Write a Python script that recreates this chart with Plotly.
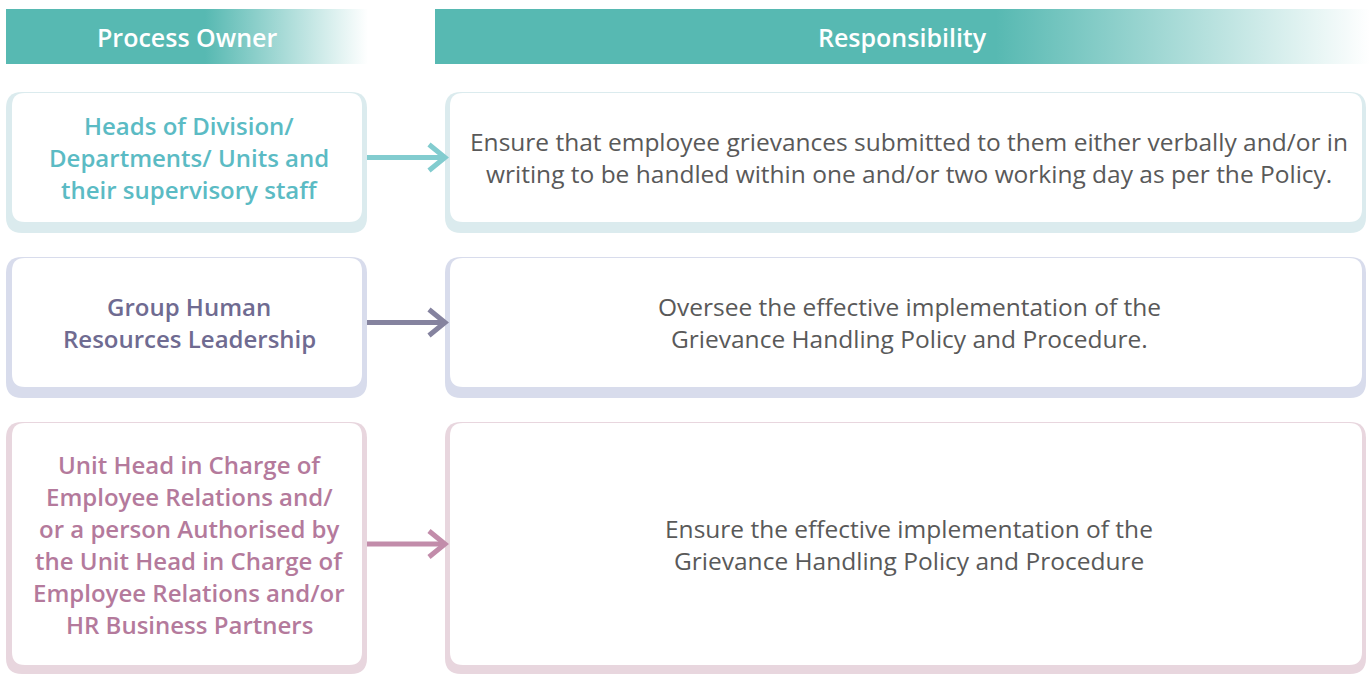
import plotly.graph_objects as go

# ---- content ----
headers = ["Process Owner", "Responsibility"]
owners = [
    ["Heads of Division/", "Departments/ Units and", "their supervisory staff"],
    ["Group Human", "Resources Leadership"],
    ["Unit Head in Charge of", "Employee Relations and/", "or a person Authorised by",
     "the Unit Head in Charge of", "Employee Relations and/or", "HR Business Partners"],
]
responsibilities = [
    ["Ensure that employee grievances submitted to them either verbally and/or in",
     "writing to be handled within one and/or two working day as per the Policy."],
    ["Oversee the effective implementation of the",
     "Grievance Handling Policy and Procedure."],
    ["Ensure the effective implementation of the",
     "Grievance Handling Policy and Procedure"],
]
row_tints = ["#DBEBEE", "#D8DCEC", "#E8D6DE"]
row_text = ["#5BBBC4", "#6F6B91", "#B47A9C"]
row_arrow = ["#82CCCF", "#85839F", "#C28CAA"]
header_color = "#57B9B2"
body_text = "#595959"

# ---- layout geometry (pixels) ----
W, H = 1370, 675
rows_y = [(92, 233, 222), (257, 398, 387), (422, 674, 665)]  # outer top, outer bottom, inner bottom
left_box = (6, 367, 12, 362)      # outer x0, outer x1, inner x0, inner x1
right_box = (445, 1366, 450, 1362)
line_gap = 32


def rr(x0, y0, x1, y1, r):
    return (f"M{x0+r},{y0} L{x1-r},{y0} Q{x1},{y0} {x1},{y0+r} "
            f"L{x1},{y1-r} Q{x1},{y1} {x1-r},{y1} L{x0+r},{y1} "
            f"Q{x0},{y1} {x0},{y1-r} L{x0},{y0+r} Q{x0},{y0} {x0+r},{y0} Z")


fig = go.Figure()
shapes = []
annotations = []

# headers with horizontal gradient
for (x0, x1, stop, cx), label in zip([(6, 368, 0.55, 187), (435, 1370, 0.6, 902)], headers):
    fig.add_trace(go.Scatter(
        x=[x0, x1, x1, x0, x0], y=[9, 9, 64, 64, 9],
        mode="lines", line=dict(width=0), fill="toself",
        fillgradient=dict(type="horizontal",
                          colorscale=[[0, header_color], [stop, header_color],
                                      [1, "rgba(255,255,255,1)"]]),
        hoverinfo="skip", showlegend=False))
    annotations.append(dict(x=cx, y=37, text=label,
                            showarrow=False, xref="x", yref="y",
                            font=dict(family="Open Sans", size=25, color="white", weight=600)))

for i, (oy0, oy1, iy1) in enumerate(rows_y):
    iy0 = oy0 + 1
    cy = (iy0 + iy1) / 2
    for (ox0, ox1, ix0, ix1) in (left_box, right_box):
        shapes.append(dict(type="path", path=rr(ox0, oy0, ox1, oy1, 16), xref="x", yref="y",
                           fillcolor=row_tints[i], line=dict(width=0), layer="below"))
        shapes.append(dict(type="path", path=rr(ix0, iy0, ix1, iy1, 13), xref="x", yref="y",
                           fillcolor="white", line=dict(width=0), layer="below"))
    # arrow
    shapes.append(dict(type="line", x0=367, x1=444, y0=cy, y1=cy, xref="x", yref="y",
                       line=dict(color=row_arrow[i], width=5)))
    shapes.append(dict(type="path", path=f"M429,{cy-13} L445,{cy} L429,{cy+13}",
                       xref="x", yref="y", line=dict(color=row_arrow[i], width=5)))
    # owner text
    n = len(owners[i])
    for k, t in enumerate(owners[i]):
        annotations.append(dict(x=189, y=cy + (k - (n - 1) / 2) * line_gap, text=t,
                                showarrow=False, xref="x", yref="y",
                                font=dict(family="Open Sans", size=24, color=row_text[i], weight=600)))
    n = len(responsibilities[i])
    for k, t in enumerate(responsibilities[i]):
        annotations.append(dict(x=909, y=cy + (k - (n - 1) / 2) * line_gap, text=t,
                                showarrow=False, xref="x", yref="y",
                                font=dict(family="Open Sans", size=24.5, color=body_text)))

fig.update_layout(
    width=W, height=H, autosize=False,
    margin=dict(l=0, r=0, t=0, b=0),
    paper_bgcolor="white", plot_bgcolor="white",
    xaxis=dict(range=[0, W], visible=False, fixedrange=True),
    yaxis=dict(range=[H, 0], visible=False, fixedrange=True),
    shapes=shapes, annotations=annotations, showlegend=False,
)

fig.write_html("out.html", config={"displayModeBar": False},
               post_script="document.body.style.margin='0';document.body.style.overflow='hidden';")
